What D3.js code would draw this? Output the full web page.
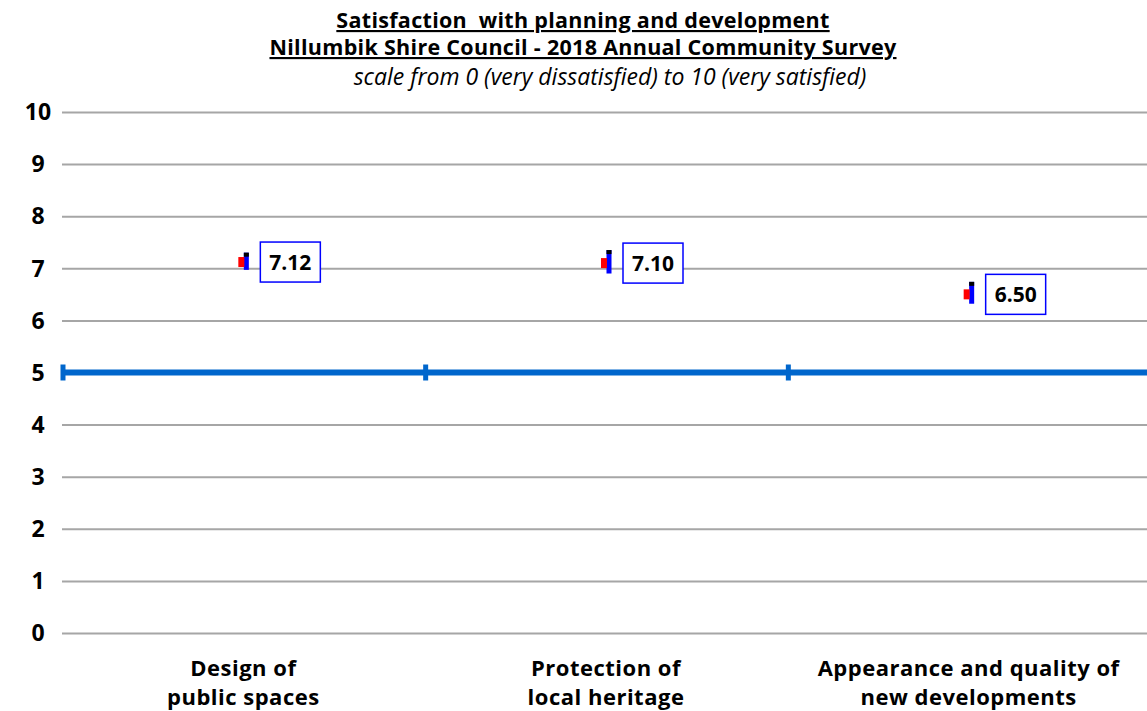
<!DOCTYPE html>
<html>
<head>
<meta charset="utf-8">
<script src="https://cdn.jsdelivr.net/npm/d3@7"></script>
<style>
  body { margin: 0; background: #fff; }
  svg { display: block; font-family: "Open Sans", Lato, sans-serif; }
</style>
</head>
<body>
<svg id="chart"></svg>
<script>
// Data
const categories = [["Design of", "public spaces"], ["Protection of", "local heritage"], ["Appearance and quality of", "new developments"]];
const means = [7.12, 7.10, 6.50];
const upper = [7.30, 7.35, 6.74];
const lower = [6.97, 6.90, 6.32];
const yTicks = [0, 1, 2, 3, 4, 5, 6, 7, 8, 9, 10];
const reference = 5;
const titleLines = ["Satisfaction  with planning and development", "Nillumbik Shire Council - 2018 Annual Community Survey"];
const subtitle = "scale from 0 (very dissatisfied) to 10 (very satisfied)";

// Configuration
const width = 1147, height = 711;
const plot = { left: 62, right: 1150, top: 112, bottom: 633 };

const svg = d3.select("#chart").attr("width", width).attr("height", height);

const x = d3.scaleBand().domain(d3.range(categories.length)).range([plot.left, plot.right]);
const y = d3.scaleLinear().domain([0, 10]).range([plot.bottom, plot.top]);

// Titles
titleLines.forEach((t, i) => {
    svg.append("text")
        .attr("x", 583).attr("y", 28 + i * 27)
        .attr("text-anchor", "middle")
        .style("white-space", "pre")
        .style("font-size", "21.5px").style("font-weight", "bold")
        .style("letter-spacing", "0.3px")
        .style("text-decoration", "underline")
        .text(t);
});
svg.append("text")
    .attr("x", 610).attr("y", 85)
    .attr("text-anchor", "middle")
    .style("font-size", "23px").style("font-style", "italic")
    .text(subtitle);

// Gridlines
svg.append("g")
    .attr("class", "grid")
    .attr("transform", `translate(${plot.left},0)`)
    .call(d3.axisLeft(y).tickValues(yTicks).tickSize(-(width - plot.left)).tickFormat(""))
    .call(g => g.select(".domain").remove())
    .call(g => g.selectAll("line").attr("stroke", "#a6a6a6").attr("stroke-width", 2));

// Y tick labels
svg.append("g")
    .selectAll("text")
    .data(yTicks)
    .join("text")
    .attr("x", 38).attr("y", d => y(d))
    .attr("dy", "0.36em")
    .attr("text-anchor", "middle")
    .style("font-size", "23px").style("font-weight", "bold")
    .text(d => d);

// Reference line at 5
svg.append("line")
    .attr("x1", plot.left).attr("x2", width)
    .attr("y1", y(reference)).attr("y2", y(reference))
    .attr("stroke", "#0066cc").attr("stroke-width", 6);
svg.append("g")
    .selectAll("line")
    .data(d3.range(categories.length))
    .join("line")
    .attr("x1", d => x(d) + 1).attr("x2", d => x(d) + 1)
    .attr("y1", y(reference) - 8).attr("y2", y(reference) + 8)
    .attr("stroke", "#0066cc").attr("stroke-width", 5);

// Markers
const cx = i => x(i) + x.bandwidth() / 2 + 3;
const marks = svg.append("g").selectAll("g")
    .data(means.map((m, i) => ({ m, i, hi: upper[i], lo: lower[i] })))
    .join("g");

marks.append("rect")
    .attr("x", d => cx(d.i) - 2.5).attr("width", 5)
    .attr("y", d => y(d.hi)).attr("height", d => y(d.lo) - y(d.hi))
    .attr("fill", "#0000ff");
marks.append("rect")
    .attr("x", d => cx(d.i) - 2.5).attr("width", 5)
    .attr("y", d => y(d.hi)).attr("height", 4)
    .attr("fill", "#000");
marks.append("rect")
    .attr("x", d => cx(d.i) - 8).attr("width", 6)
    .attr("y", d => y(d.m) - 5).attr("height", 10)
    .attr("fill", "#ff0000");

// Value labels
marks.append("rect")
    .attr("x", d => cx(d.i) + 14).attr("width", 60)
    .attr("y", d => y(d.m) - 20).attr("height", 40)
    .attr("fill", "#fff").attr("stroke", "#0000ff").attr("stroke-width", 1.5);
marks.append("text")
    .attr("x", d => cx(d.i) + 44).attr("y", d => y(d.m))
    .attr("dy", "0.36em")
    .attr("text-anchor", "middle")
    .style("font-size", "21px").style("font-weight", "bold")
    .text(d => d.m.toFixed(2));

// Category labels
svg.append("g")
    .selectAll("text")
    .data(categories)
    .join("text")
    .attr("x", (d, i) => x(i) + x.bandwidth() / 2)
    .attr("y", 676)
    .attr("text-anchor", "middle")
    .style("font-size", "22px").style("font-weight", "bold")
    .style("letter-spacing", "0.5px")
    .selectAll("tspan")
    .data(d => d)
    .join("tspan")
    .attr("x", function () { return this.parentNode.getAttribute("x"); })
    .attr("dy", (d, j) => j === 0 ? 0 : 29)
    .text(d => d);
</script>
</body>
</html>
